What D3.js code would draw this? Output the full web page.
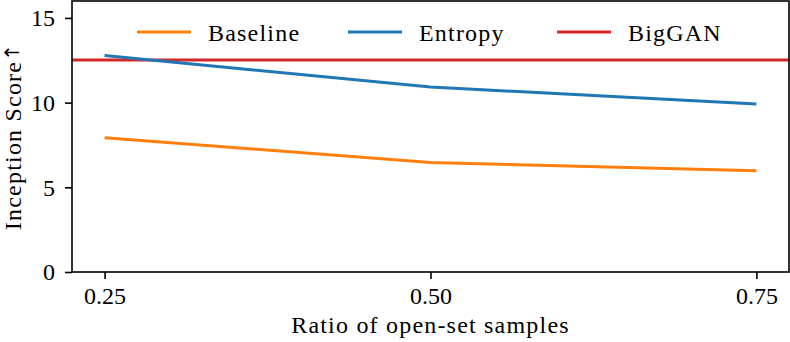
<!DOCTYPE html>
<meta charset="utf-8">
<title>Inception Score vs open-set ratio</title>
<script src="https://d3js.org/d3.v7.min.js"></script>
<style>
  body { margin: 0; background: #fff; }
  text { font-family: "Liberation Serif", "DejaVu Serif", serif; fill: #000; }
  .lbl { letter-spacing: 1.2px; }
</style>
<body>
<script>

// data
const ratios = [0.25, 0.50, 0.75];
const baseline = [7.92, 6.47, 5.98];
const entropy = [12.78, 10.92, 9.92];
const bigganScore = 12.52;
const xTicks = [0.25, 0.50, 0.75];
const yTicks = [0, 5, 10, 15];

const width = 790;
const height = 342;
const margin = { top: 1, right: 1, bottom: 70, left: 72 };
const innerW = width - margin.left - margin.right;
const innerH = height - margin.top - margin.bottom;

const x = d3.scaleLinear().domain([0.225, 0.775]).range([0, innerW]);
const y = d3.scaleLinear().domain([0, 16]).range([innerH, 0]);

const svg = d3.select("body").append("svg")
    .attr("width", width)
    .attr("height", height);

const g = svg.append("g")
    .attr("transform", `translate(${margin.left},${margin.top})`);

// axes
const xAxis = g.append("g")
    .attr("transform", `translate(0,${innerH})`)
    .call(d3.axisBottom(x).tickValues(xTicks).tickFormat(d3.format(".2f")).tickSize(7).tickPadding(8));
const yAxis = g.append("g")
    .call(d3.axisLeft(y).tickValues(yTicks).tickSize(7).tickPadding(10));

[xAxis, yAxis].forEach(a => {
  a.select(".domain").remove();
  a.selectAll(".tick line").attr("stroke", "#000").attr("stroke-width", 1.6);
  a.selectAll(".tick text").style("font-size", "24px").attr("fill", "#000");
});

// series
const line = d3.line()
    .x((d, i) => x(ratios[i]))
    .y(d => y(d));

g.append("line")
    .attr("x1", x(0.225)).attr("x2", x(0.775))
    .attr("y1", y(bigganScore)).attr("y2", y(bigganScore))
    .attr("stroke", "#d62728").attr("stroke-width", 3);

g.append("path").datum(baseline)
    .attr("d", line).attr("fill", "none")
    .attr("stroke", "#ff7f0e").attr("stroke-width", 3);

g.append("path").datum(entropy)
    .attr("d", line).attr("fill", "none")
    .attr("stroke", "#1f77b4").attr("stroke-width", 3);

// frame
g.append("rect")
    .attr("width", innerW).attr("height", innerH)
    .attr("fill", "none").attr("stroke", "#000").attr("stroke-width", 1.6);

// legend
const legendItems = [
  { name: "Baseline", color: "#ff7f0e", x: 65 },
  { name: "Entropy", color: "#1f77b4", x: 276 },
  { name: "BigGAN", color: "#d62728", x: 485 }
];
const lg = g.selectAll(".legend").data(legendItems).enter().append("g")
    .attr("class", "legend")
    .attr("transform", d => `translate(${d.x},31)`);
lg.append("line")
    .attr("x1", 0).attr("x2", 54)
    .attr("stroke", d => d.color).attr("stroke-width", 3);
lg.append("text")
    .attr("class", "lbl")
    .attr("x", 71).attr("y", 9)
    .style("font-size", "24px")
    .text(d => d.name);

// axis labels
svg.append("text")
    .attr("class", "lbl")
    .attr("x", margin.left + x(0.5))
    .attr("y", 333)
    .attr("text-anchor", "middle")
    .style("font-size", "24px")
    .text("Ratio of open-set samples");

const yLabel = svg.append("text")
    .attr("class", "lbl")
    .attr("transform", `translate(21,${margin.top + innerH / 2}) rotate(-90)`)
    .attr("text-anchor", "middle")
    .style("font-size", "24px")
    .text("Inception Score");
yLabel.append("tspan")
    .style("font-family", "DejaVu Sans")
    .style("font-size", "20px")
    .attr("dy", "-0.1em")
    .text("↑");

</script>
</body>
